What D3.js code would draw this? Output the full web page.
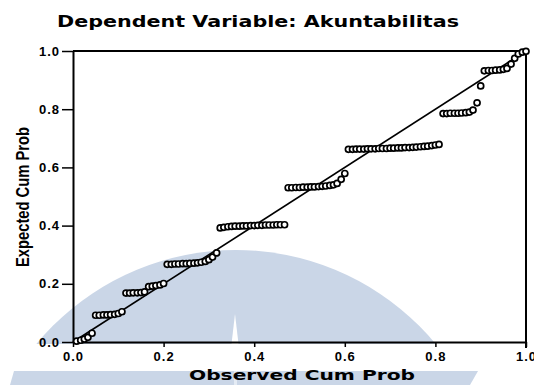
<!DOCTYPE html>
<html>
<head>
<meta charset="utf-8">
<script src="https://cdn.jsdelivr.net/npm/d3@7"></script>
<style>
  body { margin: 0; background: #fff; }
  text { font-family: "Liberation Sans", Arial, sans-serif; }
</style>
</head>
<body>
<div id="chart"></div>
<script>
// observed cum prob (x) and expected cum prob (y)
const observed = [
  0.008, 0.017, 0.025, 0.033, 0.042,
  0.050, 0.058, 0.067, 0.075, 0.083, 0.092, 0.100, 0.108,
  0.117, 0.125, 0.133, 0.142, 0.150, 0.158,
  0.167, 0.175, 0.183, 0.192, 0.200,
  0.208, 0.217, 0.225, 0.233, 0.242, 0.250, 0.258, 0.267, 0.275, 0.283, 0.292, 0.300, 0.308, 0.317,
  0.325, 0.333, 0.342, 0.350, 0.358, 0.367, 0.375, 0.383, 0.392, 0.400, 0.408, 0.417, 0.425, 0.433, 0.442, 0.450, 0.458, 0.467,
  0.475, 0.483, 0.492, 0.500, 0.508, 0.517, 0.525, 0.533, 0.542, 0.550, 0.558, 0.567, 0.575, 0.583, 0.592, 0.600,
  0.608, 0.617, 0.625, 0.633, 0.642, 0.650, 0.658, 0.667, 0.675, 0.683, 0.692, 0.700, 0.708, 0.717, 0.725,
  0.733, 0.742, 0.750, 0.758, 0.767, 0.775, 0.783, 0.792, 0.800, 0.808,
  0.817, 0.825, 0.833, 0.842, 0.850, 0.858, 0.867, 0.875, 0.883, 0.892, 0.900,
  0.908, 0.917, 0.925, 0.933, 0.942, 0.950, 0.958, 0.967, 0.975, 0.983, 0.992, 1.000
];
const expected = [
  0.003, 0.006, 0.010, 0.016, 0.030,
  0.092, 0.092, 0.093, 0.093, 0.094, 0.095, 0.098, 0.104,
  0.168, 0.168, 0.169, 0.169, 0.170, 0.172,
  0.190, 0.192, 0.194, 0.196, 0.201,
  0.267, 0.267, 0.268, 0.268, 0.269, 0.269, 0.270, 0.271, 0.272, 0.274, 0.277, 0.283, 0.292, 0.306,
  0.392, 0.394, 0.396, 0.397, 0.398, 0.398, 0.399, 0.399, 0.400, 0.400, 0.401, 0.401, 0.402, 0.402, 0.402, 0.403, 0.403, 0.403,
  0.530, 0.530, 0.531, 0.531, 0.532, 0.532, 0.533, 0.533, 0.534, 0.535, 0.536, 0.538, 0.540, 0.545, 0.559, 0.579,
  0.662, 0.662, 0.663, 0.663, 0.663, 0.664, 0.664, 0.664, 0.665, 0.665, 0.665, 0.666, 0.666,
  0.667, 0.667, 0.668, 0.668, 0.669, 0.670, 0.671, 0.672, 0.673, 0.675, 0.677, 0.679,
  0.785, 0.785, 0.786, 0.786, 0.786, 0.787, 0.788, 0.790, 0.797, 0.822, 0.880,
  0.932, 0.933, 0.933, 0.934, 0.935, 0.937, 0.940, 0.955, 0.975, 0.990, 0.996, 0.999
];
const tickValues = [0, 0.2, 0.4, 0.6, 0.8, 1.0];
const title = 'Dependent Variable: Akuntabilitas';
const xTitle = 'Observed Cum Prob';
const yTitle = 'Expected Cum Prob';

const W = 534, H = 385;
const svg = d3.select('#chart').append('svg')
  .attr('width', W)
  .attr('height', H);

const x = d3.scaleLinear().domain([0, 1]).range([73, 526]);
const y = d3.scaleLinear().domain([0, 1]).range([342, 51]);

// watermark behind the chart
const wm = '#cad6e7';
svg.append('defs').append('clipPath').attr('id', 'arcclip')
  .append('rect').attr('x', 0).attr('y', 0).attr('width', W).attr('height', 344);
svg.append('circle')
  .attr('cx', 236).attr('cy', 509).attr('r', 259)
  .attr('fill', wm)
  .attr('clip-path', 'url(#arcclip)');
svg.append('path')
  .attr('d', 'M14,371 L478,371 L470,385 L10,385 Z')
  .attr('fill', wm);
svg.append('path')
  .attr('d', 'M235,314 L238.5,344 L231.5,344 Z')
  .attr('fill', '#fff');
svg.append('rect')
  .attr('x', 234).attr('y', 371).attr('width', 3).attr('height', 14)
  .attr('fill', '#e4ebf4');

// title
svg.append('text')
  .attr('x', 258).attr('y', 27)
  .attr('text-anchor', 'middle')
  .attr('textLength', 402)
  .attr('lengthAdjust', 'spacingAndGlyphs')
  .style('font-family', '"DejaVu Sans", sans-serif')
  .style('font-size', '15px')
  .style('font-weight', 'bold')
  .text(title);

// frame top + right
svg.append('line')
  .attr('x1', x(0)).attr('x2', x(1)).attr('y1', y(1)).attr('y2', y(1))
  .attr('stroke', '#000').attr('stroke-width', 1.8);
svg.append('line')
  .attr('x1', x(1)).attr('x2', x(1)).attr('y1', y(1)).attr('y2', y(0) + 6)
  .attr('stroke', '#000').attr('stroke-width', 2);

// axes
const xAxis = svg.append('g')
  .attr('transform', `translate(0,${y(0)})`)
  .call(d3.axisBottom(x).tickValues(tickValues).tickFormat(d3.format('.1f')).tickSize(5).tickSizeOuter(0).tickPadding(5));
const yAxis = svg.append('g')
  .attr('transform', `translate(${x(0)},0)`)
  .call(d3.axisLeft(y).tickValues(tickValues).tickFormat(d3.format('.1f')).tickSize(11).tickSizeOuter(0).tickPadding(2));

[xAxis, yAxis].forEach(g => {
  g.select('.domain').attr('stroke', '#000').attr('stroke-width', 2);
  g.selectAll('.tick line').attr('stroke', '#000').attr('stroke-width', 1.5);
  g.selectAll('.tick text')
    .attr('fill', '#000')
    .style('font-size', '13px')
    .style('font-weight', 'bold')
    .style('letter-spacing', '1px')
    .style('font-family', '"Liberation Sans", Arial, sans-serif');
});

// axis titles
svg.append('text')
  .attr('x', 302).attr('y', 380)
  .attr('text-anchor', 'middle')
  .attr('textLength', 226)
  .attr('lengthAdjust', 'spacingAndGlyphs')
  .style('font-family', '"DejaVu Sans", sans-serif')
  .style('font-size', '14px')
  .style('font-weight', 'bold')
  .text(xTitle);
svg.append('text')
  .attr('transform', 'translate(29,197) rotate(-90)')
  .attr('text-anchor', 'middle')
  .attr('textLength', 140)
  .attr('lengthAdjust', 'spacingAndGlyphs')
  .style('font-size', '19px')
  .style('font-weight', 'bold')
  .text(yTitle);

// reference line
svg.append('line')
  .attr('x1', x(0)).attr('y1', y(0))
  .attr('x2', x(1)).attr('y2', y(1))
  .attr('stroke', '#000').attr('stroke-width', 1.6);

// points
svg.append('g').selectAll('circle')
  .data(observed.map((o, i) => [o, expected[i]]))
  .enter().append('circle')
  .attr('cx', d => x(d[0]))
  .attr('cy', d => y(d[1]))
  .attr('r', 3)
  .attr('fill', '#fff')
  .attr('stroke', '#000')
  .attr('stroke-width', 1.7);
</script>
</body>
</html>
